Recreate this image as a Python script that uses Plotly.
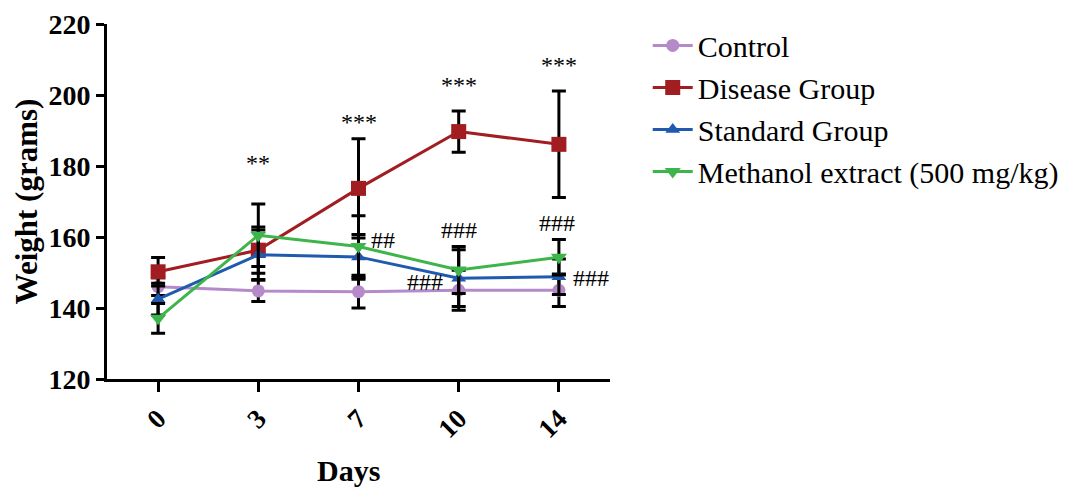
import plotly.graph_objects as go

days = ["0", "3", "7", "10", "14"]
x_pos = [0, 1, 2, 3, 4]

control = [146.0, 144.8, 144.6, 145.0, 145.0]
control_err = [2.5, 3.0, 4.6, 5.6, 4.6]
disease = [150.2, 156.3, 173.7, 189.7, 186.1]
disease_err = [4.0, 6.5, 14.0, 5.8, 15.0]
standard = [142.5, 155.0, 154.4, 148.4, 148.8]
standard_err = [4.5, 7.0, 6.3, 8.0, 5.0]
methanol = [137.1, 160.5, 157.3, 150.7, 154.3]
methanol_err = [4.2, 8.8, 8.7, 6.6, 5.0]

names = ["Control", "Disease Group", "Standard Group", "Methanol extract (500 mg/kg)"]
colors = ["#B48AC8", "#A11D21", "#1F5AAE", "#3DB54A"]
symbols = ["circle", "square", "triangle-up", "triangle-down"]
sizes = [13, 15, 13, 14]

stars = ["", "**", "***", "***", "***"]
stars_y = [0, 180.8, 192.5, 202.8, 208.5]

hash_labels = ["##", "###", "###", "###", "###"]
hash_x = [2.24, 3.0, 2.66, 3.98, 4.32]
hash_y = [159.2, 162.0, 147.4, 164.0, 148.4]

fig = go.Figure()
series = [control, disease, standard, methanol]
errs = [control_err, disease_err, standard_err, methanol_err]
for name, ys, es, c, s, sz in zip(names, series, errs, colors, symbols, sizes):
    fig.add_trace(go.Scatter(
        x=x_pos, y=ys, name=name, mode="lines+markers",
        line=dict(color=c, width=3),
        marker=dict(color=c, symbol=s, size=sz),
        error_y=dict(type="data", array=es, visible=True, color="black", thickness=3, width=7),
    ))

serif = "Liberation Serif, Times New Roman, serif"
for xi, t, yv in zip(x_pos, stars, stars_y):
    if t:
        fig.add_annotation(x=xi, y=yv, text=t, showarrow=False,
                           font=dict(family=serif, size=24, color="black"))
for xv, t, yv in zip(hash_x, hash_labels, hash_y):
    fig.add_annotation(x=xv, y=yv, text=t, showarrow=False,
                       font=dict(family=serif, size=24, color="black"))

fig.add_annotation(xref="paper", yref="paper", x=0.481, y=-0.258, text="<b>Days</b>",
                   xanchor="center", yanchor="middle",
                   showarrow=False, font=dict(family=serif, size=30, color="black"))

fig.update_layout(
    width=1070, height=488,
    margin=dict(l=107, r=460, t=24, b=109, autoexpand=False),
    plot_bgcolor="white", paper_bgcolor="white",
    font=dict(family=serif, color="black"),
    showlegend=True,
    legend=dict(x=1.075, y=1.013, xanchor="left", yanchor="top",
                font=dict(family=serif, size=30, color="black"),
                tracegroupgap=0, itemwidth=40, bgcolor="rgba(0,0,0,0)"),
    xaxis=dict(
        tickmode="array", tickvals=x_pos, ticktext=days, range=[-0.51, 4.51],
        showline=True, linecolor="black", linewidth=3, showgrid=False, zeroline=False,
        ticks="outside", ticklen=10, tickwidth=3, tickcolor="black", tickangle=-45,
        tickfont=dict(family=serif, size=27, color="black", weight="bold"),
    ),
    yaxis=dict(
        range=[120, 220], tickvals=[120, 140, 160, 180, 200, 220],
        showline=True, linecolor="black", linewidth=3, showgrid=False, zeroline=False,
        ticks="outside", ticklen=8, tickwidth=3, tickcolor="black",
        tickfont=dict(family=serif, size=28, color="black", weight="bold"),
        title=dict(text="<b>Weight (grams)</b>", font=dict(family=serif, size=31, color="black"), standoff=2),
    ),
)

fig.write_html("out.html")
